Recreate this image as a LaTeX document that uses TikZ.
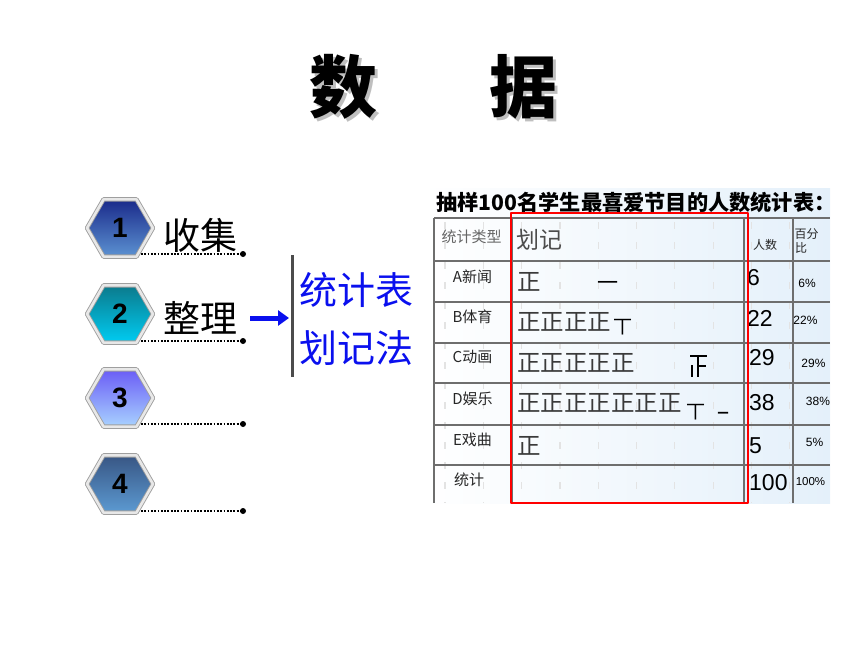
\documentclass[tikz,border=0pt]{standalone}
\usepackage{fontspec}
\setmainfont{Liberation Sans}
\newfontfamily\cjk{Noto Sans CJK SC}
\usetikzlibrary{positioning,shapes.geometric,arrows.meta}
\definecolor{hexAtop}{HTML}{1A2A8A}
\definecolor{hexAbot}{HTML}{5C92D2}
\definecolor{hexBtop}{HTML}{0B7A8C}
\definecolor{hexBbot}{HTML}{00CCF2}
\definecolor{hexCtop}{HTML}{6A5CF6}
\definecolor{hexCbot}{HTML}{A8D2FF}
\definecolor{hexDtop}{HTML}{385684}
\definecolor{hexDbot}{HTML}{5C9AD2}
\definecolor{wayblue}{HTML}{0A10EE}
\definecolor{tblbg}{HTML}{E4F0FA}
\definecolor{gridgray}{HTML}{6E6E6E}
\definecolor{tallygray}{HTML}{3A3A3A}
\newcommand{\fsz}[1]{\fontsize{#1}{#1}\selectfont}
\begin{document}
\begin{tikzpicture}[x=1pt,y=-1pt,>=latex,line join=bevel,
  hexa/.style={regular polygon,regular polygon sides=6,minimum size=66pt,inner sep=0pt,
    draw=gray!75,double=gray!18,double distance=2.6pt,line width=0.9pt,
    font=\bfseries\fsz{28}},
  dotline/.style={line width=1.8pt,dash pattern=on 1.8pt off 1.5pt},
  stepword/.style={font=\cjk\fsz{37}},
  wayword/.style={font=\cjk\fsz{38},text=wayblue},
  cell/.style={font=\cjk\fsz{15},text=black!85,inner sep=0pt},
  numcell/.style={font=\fsz{23},anchor=west,inner sep=0pt},
  pctcell/.style={font=\fsz{12},inner sep=0pt},
  tally/.style={font=\cjk\fsz{23.5},text=tallygray,anchor=west,inner sep=0pt},
  gridline/.style={draw=gridgray,line width=1.2pt},
  faint/.style={draw=gray!22,line width=1.2pt,dash pattern=on 7pt off 13pt},
]
\useasboundingbox (0,0) rectangle (860,645);
%%
%% title
\node[font=\cjk\bfseries\fsz{68},text=gray!50] at (346,90) {数};
\node[font=\cjk\bfseries\fsz{68},text=gray!50] at (526,90) {据};
\node[font=\cjk\bfseries\fsz{68}] (title_1) at (343,87) {数};
\node[font=\cjk\bfseries\fsz{68}] (title_2) at (523,87) {据};
%% steps
\foreach \i/\y in {1/254,2/341,3/424,4/511} {
  \coordinate (start_\i) at (141,\y);
  \coordinate (dot_\i) at (243,\y);
  \draw[dotline] (start_\i) -- (dot_\i);
  \fill (dot_\i) circle (3);
}
\node[hexa,top color=hexAtop,bottom color=hexAbot] (hex_1) at (120,228) {1};
\node[hexa,top color=hexBtop,bottom color=hexBbot] (hex_2) at (120,314) {2};
\node[hexa,top color=hexCtop,bottom color=hexCbot] (hex_3) at (120,398) {3};
\node[hexa,top color=hexDtop,bottom color=hexDbot] (hex_4) at (120,484) {4};
\node[stepword] (step_1) at (200,235) {收集};
\node[stepword] (step_2) at (200,318) {整理};
%% arrow and bracket
\coordinate (arr_s) at (250,318);
\coordinate (arr_e) at (289,318);
\draw[wayblue,line width=5pt,-{Triangle[length=11pt,width=15pt]}] (arr_s) -- (arr_e);
\coordinate (bar_t) at (292,255);
\coordinate (bar_b) at (292,377);
\draw[line width=3pt,draw=black!70] (bar_t) -- (bar_b);
\node[wayword] (way_1) at (356,290) {统计表};
\node[wayword] (way_2) at (356,348) {划记法};
%% table
\shade[left color=white,right color=tblbg] (422,188) rectangle (830,503);
\foreach \k in {0,...,9}
  \draw[faint] ({445+38.3*\k},222) -- ({445+38.3*\k},503);
\node[font=\cjk\bfseries\fsz{21.2}] (tbl_title) at (636,202) {抽样100名学生最喜爱节目的人数统计表：};
\draw[gridline] (434,218) -- (830,218);
\foreach \y in {261,302,343,383,425,465}
  \draw[gridline] (434,\y) -- (830,\y);
\foreach \x in {434,512,744,793}
  \draw[gridline] (\x,218) -- (\x,503);
%% header
\node[cell,text=black!60] (hd_type) at (471.5,237) {统计类型};
\node[font=\cjk\fsz{23},text=black!70,anchor=west,inner sep=0pt] (hd_tally) at (516,240) {划记};
\node[cell,font=\cjk\fsz{12}] (hd_num) at (765,245) {人数};
\node[cell,font=\cjk\fsz{12}] (hd_pct) at (806.5,234) {百分};
\node[cell,font=\cjk\fsz{12},anchor=west] (hd_pct2) at (795,248) {比};
%% rows
\node[cell] (row_a) at (472.5,277) {A新闻};
\node[cell] (row_b) at (472.5,317) {B体育};
\node[cell] (row_c) at (472.5,357) {C动画};
\node[cell] (row_d) at (472.5,399) {D娱乐};
\node[cell] (row_e) at (472.5,440) {E戏曲};
\node[cell] (row_t) at (469,480) {统计};
%% tallies
\node[tally] (tally_a) at (517,282) {正};
\node[font=\cjk\fsz{21}] (mark_a) at (608,286) {一};
\node[tally] (tally_b) at (517,322) {正正正正};
\node[font=\cjk\fsz{19}] (mark_b) at (623,327) {丅};
\node[tally] (tally_c) at (517,363) {正正正正正};
\draw[line width=1.8pt] (690,356) -- (707,356) (698,356) -- (698,377)
  (698,366) -- (706,366) (692,365) -- (692,377);
\node[tally] (tally_d) at (517,403) {正正正正正正正};
\node[font=\cjk\fsz{19}] (mark_d) at (695.5,412) {丅};
\node[font=\cjk\bfseries\fsz{11}] (mark_d2) at (723,415) {一};
\node[tally] (tally_e) at (517,446) {正};
%% counts
\node[numcell] (num_a) at (747,278) {6};
\node[numcell] (num_b) at (747,318) {22};
\node[numcell] (num_c) at (749,358) {29};
\node[numcell] (num_d) at (749,403) {38};
\node[numcell] (num_e) at (749,446) {5};
\node[numcell] (num_t) at (749,483) {100};
\node[pctcell] (pct_a) at (807,283) {6\%};
\node[pctcell] (pct_b) at (805.5,320) {22\%};
\node[pctcell] (pct_c) at (813.5,363) {29\%};
\node[pctcell] (pct_d) at (818,401) {38\%};
\node[pctcell] (pct_e) at (814.5,442) {5\%};
\node[pctcell,font=\fsz{11.5}] (pct_t) at (810.5,482) {100\%};
%% highlight
\draw[red,line width=2pt] (511,213) rectangle (748,503);
%
\end{tikzpicture}
\end{document}
